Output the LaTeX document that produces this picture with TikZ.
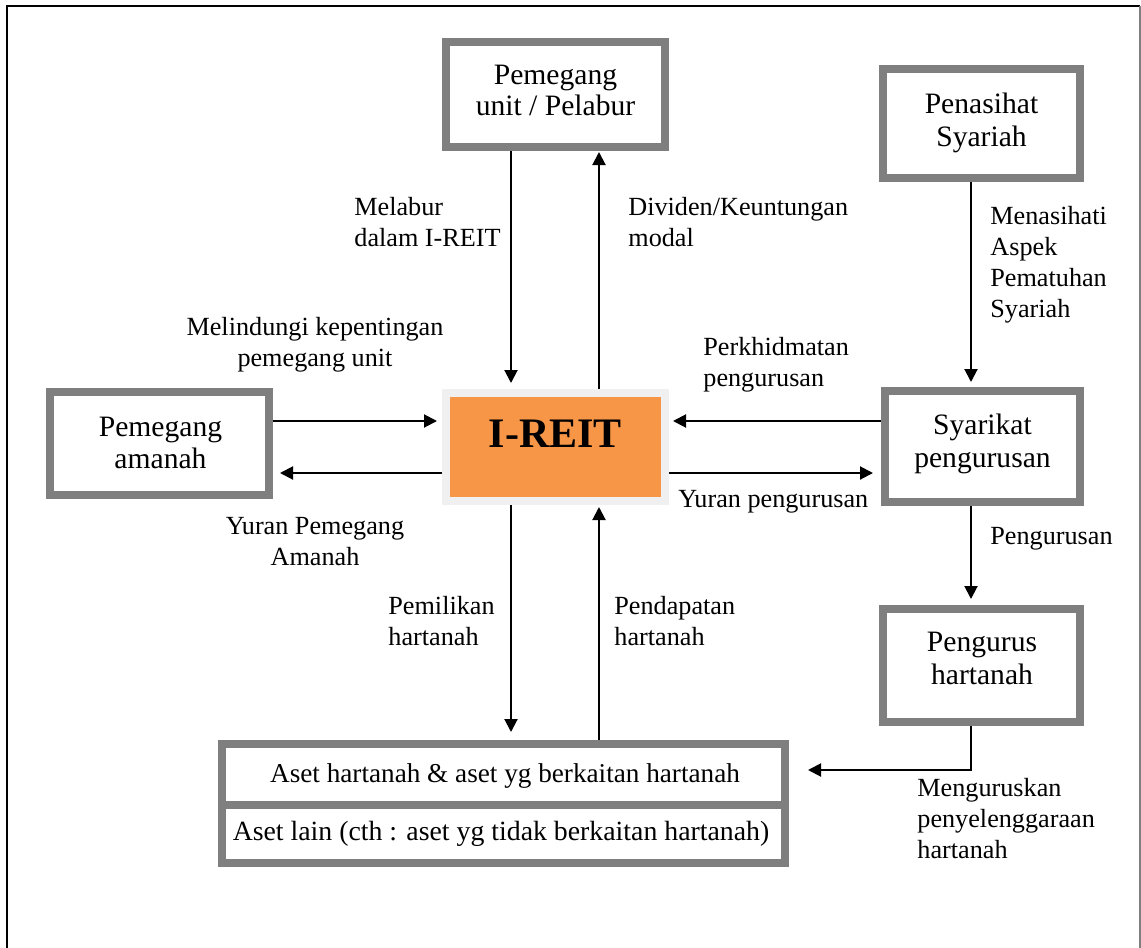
\documentclass[tikz,border=0pt]{standalone}
\usepackage{fontspec}
\setmainfont{Liberation Serif}
\usetikzlibrary{arrows.meta}
\definecolor{edgegray}{HTML}{7F7F7F}
\definecolor{core}{HTML}{F79646}
\definecolor{coreedge}{HTML}{F0F0F0}

\begin{document}
\begin{tikzpicture}[x=0.5pt,y=-0.5pt,
  party/.style={draw=edgegray, line width=4pt, fill=white, inner sep=0pt},
  partytext/.style={align=center, inner sep=0pt, font=\fontsize{14.8}{16.5}\selectfont},
  assettext/.style={align=center, inner sep=0pt, font=\fontsize{13.6}{15}\selectfont},
  note/.style={inner sep=0pt, font=\fontsize{13.1}{15.5}\selectfont, align=left},
  flow/.style={line width=1pt, -{Triangle[length=6.5pt,width=6.5pt]}}]

\useasboundingbox (0,0) rectangle (1141,948);

% page frame
\draw[line width=1.1pt] (7,948) -- (7,6) -- (1140,6);
\draw[edgegray, line width=0.8pt] (1140,6) -- (1140,948);

% parties
\node[party, minimum width=109.5pt, minimum height=52.5pt] (unit) at (555.5,94.5) {};
\node[partytext, font=\fontsize{14.8}{15.5}\selectfont] (unittext) at (555.5,90.5) {Pemegang\\unit / Pelabur};
\node[party, minimum width=98.5pt, minimum height=54.5pt] (shariah) at (981.5,123.5) {};
\node[partytext] (shariahtext) at (981.5,122.5) {Penasihat\\Syariah};
\node[party, minimum width=97.5pt, minimum height=55.5pt] (manager) at (982.5,446.5) {};
\node[partytext] (managertext) at (982.5,444) {Syarikat\\pengurusan};
\node[party, minimum width=98.5pt, minimum height=56.5pt] (propmgr) at (981.5,665.5) {};
\node[partytext] (propmgrtext) at (982,658) {Pengurus\\hartanah};
\node[party, minimum width=109.5pt, minimum height=51.5pt] (trustee) at (159.5,443.5) {};
\node[partytext, font=\fontsize{14.8}{16}\selectfont] (trusteetext) at (160.5,443) {Pemegang\\amanah};

% the trust itself
\node[draw=coreedge, fill=core, line width=4pt, minimum width=109.5pt, minimum height=54pt] (ireit) at (555.5,447) {};
\node[inner sep=0pt, font=\fontsize{21}{21}\selectfont\bfseries] (ireittext) at (555.5,434) {I-REIT};

% assets
\node[party, minimum width=281.5pt, minimum height=30.5pt] (assets) at (503.5,774.5) {};
\node[assettext] (assetstext) at (505,776) {Aset hartanah \& aset yg berkaitan hartanah};
\node[party, minimum width=281.5pt, minimum height=29pt] (other) at (503.5,834) {};
\node[assettext, font=\fontsize{13.9}{15}\selectfont] (othertext) at (501,834) {Aset lain (cth : aset yg tidak berkaitan hartanah)};

% connector tracks
\coordinate (xin) at (511,0);
\coordinate (xout) at (599,0);
\coordinate (yin) at (0,421);
\coordinate (yout) at (0,473);
\coordinate (xr) at (971,0);
\coordinate (bend) at (971,770);

% flows
\draw[flow, shorten >=3pt] (unit.south -| xin) -- (ireit.north -| xin);
\draw[flow, shorten >=0.5pt] (ireit.north -| xout) -- (unit.south -| xout);
\draw[flow, shorten >=2.5pt] (trustee.east |- yin) -- (ireit.west |- yin);
\draw[flow, shorten >=3.5pt] (ireit.west |- yout) -- (trustee.east |- yout);
\draw[flow, shorten >=2pt] (manager.west |- yin) -- (ireit.east |- yin);
\draw[flow, shorten >=4pt] (ireit.east |- yout) -- (manager.west |- yout);
\draw[flow, shorten >=2.5pt] (shariah.south -| xr) -- (manager.north -| xr);
\draw[flow, shorten >=3pt] (manager.south -| xr) -- (propmgr.north -| xr);
\draw[flow, shorten >=9.5pt] (propmgr.south -| xr) -- (bend) -- (assets.east |- bend);
\draw[flow, shorten >=4pt] (ireit.south -| xin) -- (assets.north -| xin);
\draw[flow, shorten >=1pt] (assets.north -| xout) -- (ireit.south -| xout);

% flow labels
\node[note, anchor=west] (invest) at (354,222.5) {Melabur\\dalam I-REIT};
\node[note, anchor=west] (dividend) at (628,222.5) {Dividen/Keuntungan\\modal};
\node[note, align=center] (protect) at (315,344.5) {Melindungi kepentingan\\pemegang unit};
\node[note, anchor=west] (service) at (703,365) {Perkhidmatan\\pengurusan};
\node[note, anchor=west] (mgmtfee) at (678,502) {Yuran pengurusan};
\node[note, align=center] (trustfee) at (315,542) {Yuran Pemegang\\Amanah};
\node[note, anchor=west] (advise) at (990,264.5) {Menasihati\\Aspek\\Pematuhan\\Syariah};
\node[note, anchor=west] (manage) at (990,539) {Pengurusan};
\node[note, anchor=west] (own) at (388,621.5) {Pemilikan\\hartanah};
\node[note, anchor=west] (income) at (614,621.5) {Pendapatan\\hartanah};
\node[note, anchor=west] (upkeep) at (917,818.5) {Menguruskan\\penyelenggaraan\\hartanah};

\end{tikzpicture}
\end{document}
